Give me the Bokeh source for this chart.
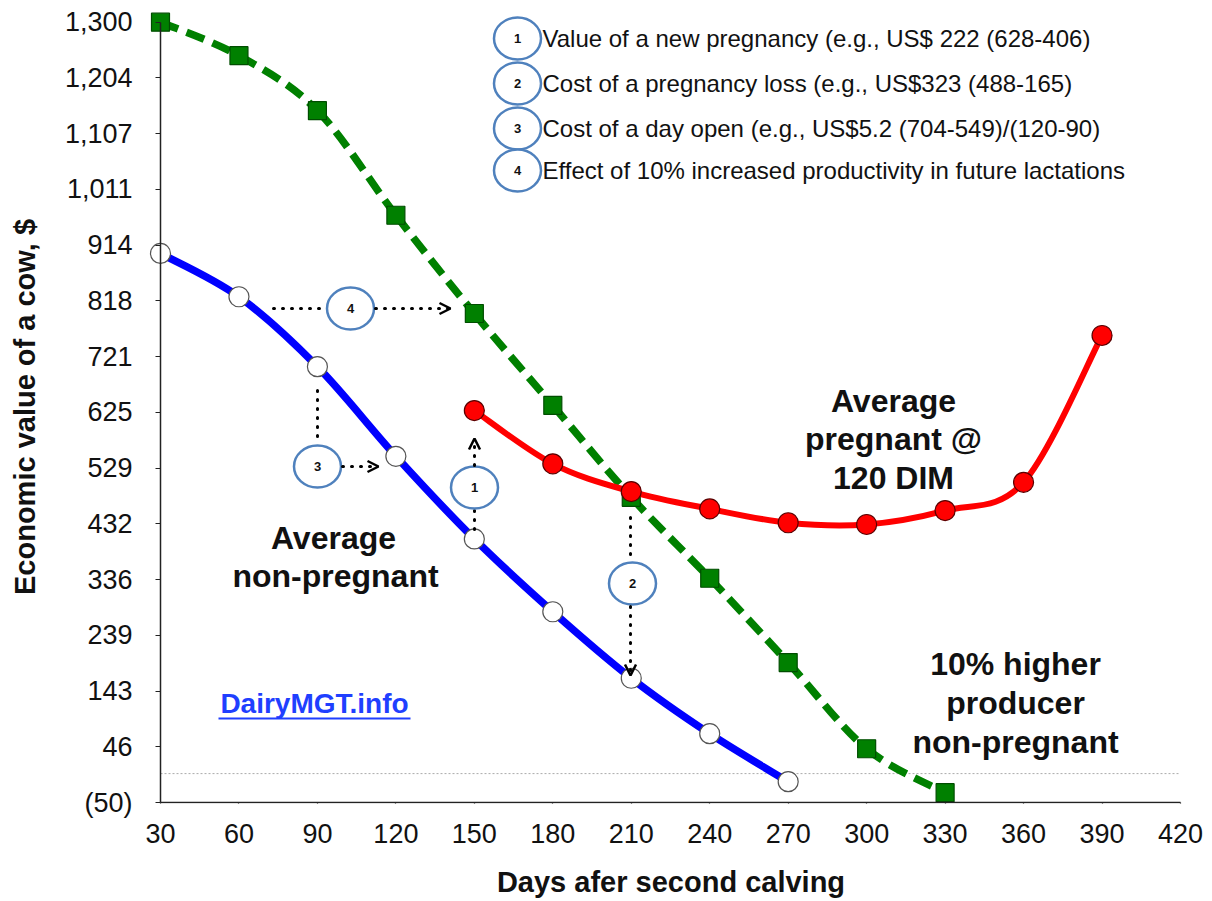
import numpy as np
from bokeh.plotting import figure
from bokeh.models import Range1d, FixedTicker, Arrow, OpenHead, LinearAxis
from bokeh.core.properties import value
from bokeh.embed import file_html
from bokeh.resources import INLINE

# ---------------- data ----------------
x_ticks = [30, 60, 90, 120, 150, 180, 210, 240, 270, 300, 330, 360, 390, 420]
y_ticks = [-50, 46.43, 142.86, 239.29, 335.71, 432.14, 528.57, 625.0,
           721.43, 817.86, 914.29, 1010.71, 1107.14, 1203.57, 1300.0]
y_tick_labels = ["(50)", "46", "143", "239", "336", "432", "529", "625",
                 "721", "818", "914", "1,011", "1,107", "1,204", "1,300"]

nonpreg_days = [30, 60, 90, 120, 150, 180, 210, 240, 270]
nonpreg_value = [900, 825, 704, 549, 406, 280, 165, 69, -14]

preg_days = [150, 180, 210, 240, 270, 300, 330, 360, 390]
preg_value = [628, 536, 488, 458, 434, 431, 455, 504, 758]

high_days = [30, 60, 90, 120, 150, 180, 210, 240, 270, 300, 330]
high_value = [1300, 1242, 1147, 966, 796, 637, 478, 338, 192, 43, -33]

legend_numbers = ["1", "2", "3", "4"]
legend_texts = [
    "Value of a new pregnancy (e.g., US$ 222 (628-406)",
    "Cost of a pregnancy loss (e.g., US$323 (488-165)",
    "Cost of a day open (e.g., US$5.2 (704-549)/(120-90)",
    "Effect of 10% increased productivity in future lactations",
]

# ---------------- layout constants ----------------
W, H = 1212, 901
PXD = 1020 / 390.0      # px per day
PXV = 780.3 / 1350.0    # px per $
AX_X, AX_Y = 160, 802   # px of axis origin (30, -50)
FL, FR, FT, FB = 147, 1194, 10, 803   # frame edges in px

x_lo = 30 - (AX_X - FL) / PXD
x_hi = 30 + (FR - AX_X) / PXD
y_lo = -50 - (FB - AX_Y) / PXV
y_hi = -50 + (AX_Y - FT) / PXV


def X(px):
    return 30 + (px - AX_X) / PXD


def Y(py):
    return -50 + (AX_Y - py) / PXV


FONT = "Liberation Sans"
INK = "#111111"

p = figure(width=W, height=H, x_range=Range1d(x_lo, x_hi), y_range=Range1d(y_lo, y_hi),
           min_border_left=FL, min_border_right=W - FR, min_border_top=FT,
           min_border_bottom=H - FB, output_backend="svg", toolbar_location=None)
p.outline_line_color = None
p.grid.visible = False
p.background_fill_color = "white"

xa = p.below[0]
ya = p.left[0]

# label-only axes on the frame edges
for ax in (xa, ya):
    ax.axis_line_color = None
    ax.major_tick_line_color = None
    ax.minor_tick_line_color = None
    ax.major_tick_in = 0
    ax.major_tick_out = 0
    ax.minor_tick_in = 0
    ax.minor_tick_out = 0
    ax.major_label_text_font = FONT
    ax.major_label_text_font_size = "27px"
    ax.major_label_text_color = INK
    ax.axis_label_text_font = FONT
    ax.axis_label_text_font_style = "bold"
    ax.axis_label_text_font_size = "29px"
    ax.axis_label_text_color = INK

xa.ticker = FixedTicker(ticks=x_ticks)
xa.major_label_standoff = 20
xa.axis_label = "Days afer second calving"
xa.axis_label_standoff = 20

ya.ticker = FixedTicker(ticks=y_ticks)
ya.major_label_overrides = dict(zip(y_ticks, y_tick_labels))
ya.major_label_standoff = 15
ya.axis_label = "Economic value of a cow, $"
ya.axis_label_standoff = 21

# axis lines + ticks at the data origin (30, -50)
common = dict(major_tick_out=0, minor_tick_line_color=None, minor_tick_in=0,
              minor_tick_out=0, major_label_text_font_size="1px",
              major_label_text_color=None, major_label_standoff=0,
              axis_line_color="#222222", axis_line_width=1.5,
              major_tick_line_color="#222222", major_tick_line_width=1.2)
xfix = LinearAxis(fixed_location=-50, bounds=(30, 420), ticker=FixedTicker(ticks=x_ticks),
                  major_tick_in=4, **common)
yfix = LinearAxis(fixed_location=30, bounds=(-50, 1300), ticker=FixedTicker(ticks=y_ticks),
                  major_tick_in=5, **common)
p.add_layout(xfix, "above")
p.add_layout(yfix, "right")

# zero reference line
p.segment(x0=[x_ticks[0]], y0=[0], x1=[x_ticks[-1]], y1=[0],
          line_color="#aaaaaa", line_width=1, line_dash="2 2")


def smooth(xs, ys):
    n = len(xs)
    d = dict(x0=[], y0=[], x1=[], y1=[], cx0=[], cy0=[], cx1=[], cy1=[])
    for i in range(n - 1):
        a = max(i - 1, 0)
        b = min(i + 2, n - 1)
        d["x0"].append(xs[i]); d["y0"].append(ys[i])
        d["x1"].append(xs[i + 1]); d["y1"].append(ys[i + 1])
        d["cx0"].append(xs[i] + (xs[i + 1] - xs[a]) / 6.0)
        d["cy0"].append(ys[i] + (ys[i + 1] - ys[a]) / 6.0)
        d["cx1"].append(xs[i + 1] - (xs[b] - xs[i]) / 6.0)
        d["cy1"].append(ys[i + 1] - (ys[b] - ys[i]) / 6.0)
    return d


# green: 10% higher producer
p.bezier(**smooth(high_days, high_value), line_color="#008000", line_width=7.5, line_dash="19 9")
p.scatter(high_days, high_value, marker="square", size=18, fill_color="#008000",
          line_color="#004d00", line_width=1.2)

# blue: average non-pregnant
p.bezier(**smooth(nonpreg_days, nonpreg_value), line_color="#0000ff", line_width=7.5)
p.scatter(nonpreg_days, nonpreg_value, marker="circle", size=20, fill_color="white",
          line_color="#555555", line_width=1.2)

# red: pregnant at 120 DIM
p.bezier(**smooth(preg_days, preg_value), line_color="#ff0000", line_width=6)
p.scatter(preg_days, preg_value, marker="circle", size=20, fill_color="#ff0000",
          line_color="#5a0000", line_width=1.2)

# ---------------- annotations ----------------
dot = dict(line_color="black", line_width=3, line_dash="1 8", line_cap="round")

# plain dotted connectors
p.segment(x0=[X(273), X(317), X(474), X(630)],
          y0=[Y(308), Y(390), Y(510), Y(517)],
          x1=[X(322), X(317), X(474), X(630)],
          y1=[Y(308), Y(443), Y(537), Y(560)], **dot)

# numbered circles in the plot
circ_x = [X(474), X(632), X(317), X(350)]
circ_y = [Y(487), Y(583), Y(466), Y(308)]
p.ellipse(x=circ_x, y=circ_y, width=47, height=42, width_units="screen",
          height_units="screen", fill_color="white", line_color="#4f81bd", line_width=2.5)
p.text(x=circ_x, y=circ_y, text=legend_numbers, text_font=value(FONT),
       text_font_style="bold", text_font_size="13px", text_align="center",
       text_baseline="middle", text_color=INK)

# arrows
for (xs, ys, xe, ye) in [(375, 308, 450, 308), (342, 466, 378, 466),
                         (474, 465, 474, 438), (630, 606, 630, 675)]:
    p.add_layout(Arrow(end=OpenHead(size=11, line_width=2.5, line_color="black"),
                       x_start=X(xs), y_start=Y(ys), x_end=X(xe), y_end=Y(ye), **dot))

# legend at the top
leg_y = [Y(38), Y(83), Y(128), Y(170)]
p.ellipse(x=[X(517)] * 4, y=leg_y, width=47, height=42, width_units="screen",
          height_units="screen", fill_color="white", line_color="#4f81bd", line_width=2.5)
p.text(x=[X(517)] * 4, y=leg_y, text=legend_numbers, text_font=value(FONT),
       text_font_style="bold", text_font_size="13px", text_align="center",
       text_baseline="middle", text_color=INK)
p.text(x=[X(542)] * 4, y=leg_y, text=legend_texts, text_font=value(FONT),
       text_font_size="24px", text_align="left", text_baseline="middle",
       text_color=INK)

# series labels
lab_x = [X(333), X(335), X(893), X(893), X(893), X(1015), X(1015), X(1015)]
lab_y = [Y(537), Y(575), Y(400), Y(438), Y(477), Y(663), Y(702), Y(741)]
lab_t = ["Average", "non-pregnant", "Average", "pregnant @", "120 DIM",
         "10% higher", "producer", "non-pregnant"]
p.text(x=lab_x, y=lab_y, text=lab_t, text_font=value(FONT), text_font_style="bold",
       text_font_size="32px", text_align="center", text_baseline="middle",
       text_color=INK)

# DairyMGT.info
p.text(x=[X(314)], y=[Y(703)], text=["DairyMGT.info"], text_font=value(FONT),
       text_font_style="bold", text_font_size="28px", text_align="center",
       text_baseline="middle", text_color="#1f3fff")
p.segment(x0=[X(218)], y0=[Y(718)], x1=[X(410)], y1=[Y(718)],
          line_color="#1f3fff", line_width=2)

open("out.html", "w").write(file_html(p, INLINE))
